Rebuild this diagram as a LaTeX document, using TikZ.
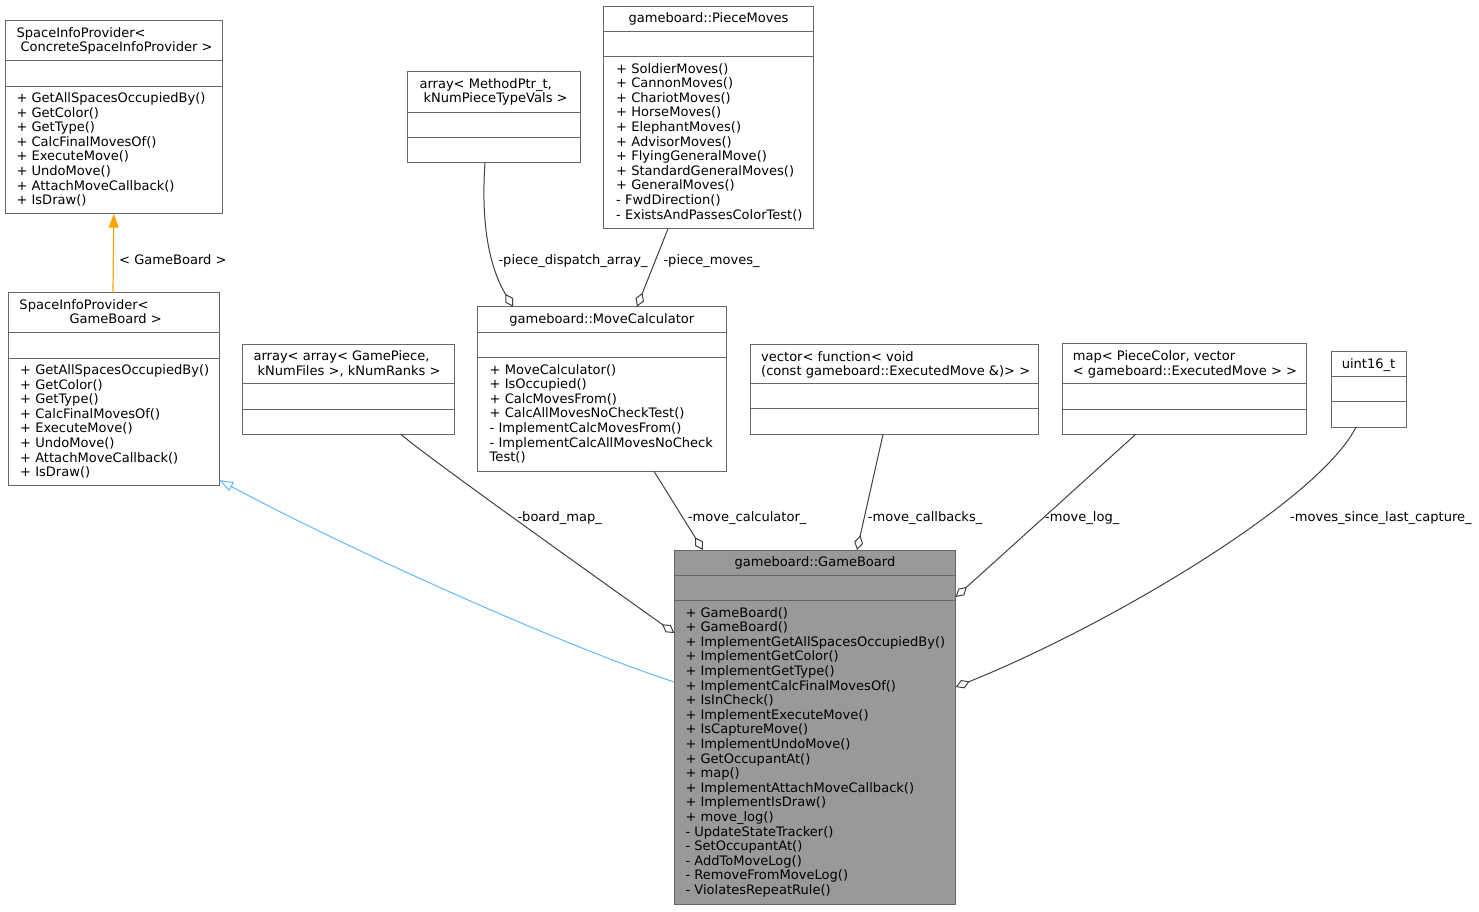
\documentclass[tikz,border=0pt]{standalone}
\usepackage{fontspec}
\setmainfont{DejaVu Sans}
\usetikzlibrary{arrows.meta}
\definecolor{edgegray}{HTML}{404040}
\definecolor{boxgray}{HTML}{666666}
\definecolor{gbfill}{HTML}{999999}
\definecolor{inhblue}{HTML}{63B8FF}
\definecolor{tplorange}{HTML}{FFA500}
\begin{document}
\begin{tikzpicture}[x=1pt,y=-1pt,
    every node/.style={font=\fontsize{13.05}{14.6}\selectfont},
    cls/.style={draw=boxgray, line width=1pt, fill=white, anchor=north west, inner sep=0pt, outer sep=0pt},
    divline/.style={draw=boxgray, line width=1pt},
    txt/.style={anchor=base west, inner sep=0pt},
    ctxt/.style={anchor=base, inner sep=0pt},
    agg/.style={draw=edgegray, line width=1pt, -{Diamond[open, length=15pt, width=9pt]}},
    inh/.style={draw=inhblue, line width=1pt, -{Triangle[open, length=14pt, width=10pt]}},
    tpl/.style={draw=tplorange, line width=1.2pt, -{Triangle[length=14pt, width=10pt]}}]
  \useasboundingbox (0,0) rectangle (1479,911);

  \node[cls, minimum width=217.5pt, minimum height=193pt] (sipc) at (5,20.7) {};
  \draw[divline] ([yshift=-40pt]sipc.north west) -- ([yshift=-40pt]sipc.north east);
  \draw[divline] ([yshift=-65.3pt]sipc.north west) -- ([yshift=-65.3pt]sipc.north east);
  \node[txt] (sipc-t1) at (16.3,37.3) {SpaceInfoProvider<};
  \node[txt] (sipc-t2) at (20.3,51.9) {ConcreteSpaceInfoProvider >};
  \foreach \m [count=\i from 0] in {+ GetAllSpacesOccupiedBy(), + GetColor(), + GetType(),
      + CalcFinalMovesOf(), + ExecuteMove(), + UndoMove(), + AttachMoveCallback(), + IsDraw()}
    \node[txt] (sipc-m\i) at (16.3,{102.5+14.6*\i}) {\m};

  \node[cls, minimum width=211pt, minimum height=193pt] (sipgb) at (8.3,292.7) {};
  \draw[divline] ([yshift=-39.6pt]sipgb.north west) -- ([yshift=-39.6pt]sipgb.north east);
  \draw[divline] ([yshift=-65.3pt]sipgb.north west) -- ([yshift=-65.3pt]sipgb.north east);
  \node[txt] (sipgb-t1) at (19.3,309.3) {SpaceInfoProvider<};
  \node[txt] (sipgb-t2) at (69.3,323.5) {GameBoard >};
  \foreach \m [count=\i from 0] in {+ GetAllSpacesOccupiedBy(), + GetColor(), + GetType(),
      + CalcFinalMovesOf(), + ExecuteMove(), + UndoMove(), + AttachMoveCallback(), + IsDraw()}
    \node[txt] (sipgb-m\i) at (20,{374.4+14.6*\i}) {\m};

  \node[cls, minimum width=211.6pt, minimum height=90.3pt] (bmap) at (242.7,344) {};
  \draw[divline] ([yshift=-39.7pt]bmap.north west) -- ([yshift=-39.7pt]bmap.north east);
  \draw[divline] ([yshift=-65.3pt]bmap.north west) -- ([yshift=-65.3pt]bmap.north east);
  \node[txt] (bmap-t1) at (253.3,360.5) {array< array< GamePiece,};
  \node[txt] (bmap-t2) at (257.3,375) {kNumFiles >, kNumRanks >};

  \node[cls, minimum width=172.3pt, minimum height=91pt] (dispatch) at (407.7,71.7) {};
  \draw[divline] ([yshift=-40.3pt]dispatch.north west) -- ([yshift=-40.3pt]dispatch.north east);
  \draw[divline] ([yshift=-65.3pt]dispatch.north west) -- ([yshift=-65.3pt]dispatch.north east);
  \node[txt] (dispatch-t1) at (419.3,88.3) {array< MethodPtr\_t,};
  \node[txt] (dispatch-t2) at (423.3,102.9) {kNumPieceTypeVals >};

  \node[cls, minimum width=209.6pt, minimum height=222.7pt] (pmoves) at (603.7,6) {};
  \draw[divline] ([yshift=-25.3pt]pmoves.north west) -- ([yshift=-25.3pt]pmoves.north east);
  \draw[divline] ([yshift=-50.7pt]pmoves.north west) -- ([yshift=-50.7pt]pmoves.north east);
  \node[ctxt] (pmoves-t) at (708.5,22.6) {gameboard::PieceMoves};
  \foreach \m [count=\i from 0] in {+ SoldierMoves(), + CannonMoves(), + ChariotMoves(),
      + HorseMoves(), + ElephantMoves(), + AdvisorMoves(), + FlyingGeneralMove(),
      + StandardGeneralMoves(), + GeneralMoves(), - FwdDirection(), - ExistsAndPassesColorTest()}
    \node[txt] (pmoves-m\i) at (616,{73+14.6*\i}) {\m};

  \node[cls, minimum width=248.3pt, minimum height=164.6pt] (mcalc) at (477.7,306.7) {};
  \draw[divline] ([yshift=-25.6pt]mcalc.north west) -- ([yshift=-25.6pt]mcalc.north east);
  \draw[divline] ([yshift=-51pt]mcalc.north west) -- ([yshift=-51pt]mcalc.north east);
  \node[ctxt] (mcalc-t) at (601.8,323.3) {gameboard::MoveCalculator};
  \foreach \m [count=\i from 0] in {+ MoveCalculator(), + IsOccupied(), + CalcMovesFrom(),
      + CalcAllMovesNoCheckTest(), - ImplementCalcMovesFrom(), - ImplementCalcAllMovesNoCheck, Test()}
    \node[txt] (mcalc-m\i) at (489.5,{374+14.6*\i}) {\m};

  \node[cls, minimum width=288.3pt, minimum height=90pt] (cbvec) at (750,344.3) {};
  \draw[divline] ([yshift=-39pt]cbvec.north west) -- ([yshift=-39pt]cbvec.north east);
  \draw[divline] ([yshift=-64.4pt]cbvec.north west) -- ([yshift=-64.4pt]cbvec.north east);
  \node[txt] (cbvec-t1) at (761,361) {vector< function< void};
  \node[txt] (cbvec-t2) at (761,375.5) {(const gameboard::ExecutedMove \&)> >};

  \node[cls, minimum width=244.4pt, minimum height=90.6pt] (logmap) at (1062.3,343.7) {};
  \draw[divline] ([yshift=-39.6pt]logmap.north west) -- ([yshift=-39.6pt]logmap.north east);
  \draw[divline] ([yshift=-65.6pt]logmap.north west) -- ([yshift=-65.6pt]logmap.north east);
  \node[txt] (logmap-t1) at (1072.7,360.5) {map< PieceColor, vector};
  \node[txt] (logmap-t2) at (1072.7,375) {< gameboard::ExecutedMove > >};

  \node[cls, minimum width=75pt, minimum height=75.7pt] (u16) at (1331,351.3) {};
  \draw[divline] ([yshift=-25.4pt]u16.north west) -- ([yshift=-25.4pt]u16.north east);
  \draw[divline] ([yshift=-50.4pt]u16.north west) -- ([yshift=-50.4pt]u16.north east);
  \node[ctxt] (u16-t) at (1368.5,368) {uint16\_t};

  \node[cls, fill=gbfill, minimum width=281.4pt, minimum height=354.3pt] (gb) at (674.3,550) {};
  \draw[divline] ([yshift=-25pt]gb.north west) -- ([yshift=-25pt]gb.north east);
  \draw[divline] ([yshift=-50pt]gb.north west) -- ([yshift=-50pt]gb.north east);
  \node[ctxt] (gb-t) at (815,566.5) {gameboard::GameBoard};
  \foreach \m [count=\i from 0] in {+ GameBoard(), + GameBoard(), + ImplementGetAllSpacesOccupiedBy(),
      + ImplementGetColor(), + ImplementGetType(), + ImplementCalcFinalMovesOf(), + IsInCheck(),
      + ImplementExecuteMove(), + IsCaptureMove(), + ImplementUndoMove(), + GetOccupantAt(),
      + map(), + ImplementAttachMoveCallback(), + ImplementIsDraw(), + move\_log(),
      - UpdateStateTracker(), - SetOccupantAt(), - AddToMoveLog(), - RemoveFromMoveLog(),
      - ViolatesRepeatRule()}
    \node[txt] (gb-m\i) at (685.3,{617+14.6*\i}) {\m};

  \draw[tpl] ([xshift=104.7pt]sipgb.north west) -- ([xshift=108.8pt]sipc.south west);
  \node[txt] (tplarg) at (119,264.3) {< GameBoard >};

  \draw[inh] ([yshift=-132pt]gb.north west) .. controls (560,645) and (340,545) .. ([yshift=5.7pt]sipgb.south east);

  \draw[agg] ([xshift=158.3pt]bmap.south west) .. controls (420,452) and (600,580) .. ([yshift=-83pt]gb.north west);
  \node[txt] (bmap-l) at (517.3,521.5) {-board\_map\_};

  \draw[agg] ([xshift=77.3pt]dispatch.south west) .. controls (481,220) and (488,265) .. ([xshift=35.3pt]mcalc.north west);
  \node[txt] (dispatch-l) at (498.3,264.3) {-piece\_dispatch\_array\_};

  \draw[agg] ([xshift=64.3pt]pmoves.south west) -- ([xshift=159.3pt]mcalc.north west);
  \node[txt] (pmoves-l) at (663.3,264.3) {-piece\_moves\_};

  \draw[agg] ([xshift=176.3pt]mcalc.south west) -- ([xshift=28.7pt]gb.north west);
  \node[txt] (mcalc-l) at (687.7,521.5) {-move\_calculator\_};

  \draw[agg] ([xshift=133pt]cbvec.south west) -- ([xshift=182.7pt]gb.north west);
  \node[txt] (cbvec-l) at (867.7,521.5) {-move\_callbacks\_};

  \draw[agg] ([xshift=73.4pt]logmap.south west) -- ([yshift=-47pt]gb.north east);
  \node[txt] (logmap-l) at (1045,521.5) {-move\_log\_};

  \draw[agg] ([xshift=25pt]u16.south west) .. controls (1320,500) and (1110,625) .. ([yshift=-137pt]gb.north east);
  \node[txt] (u16-l) at (1290,521.5) {-moves\_since\_last\_capture\_};
\end{tikzpicture}
\end{document}
